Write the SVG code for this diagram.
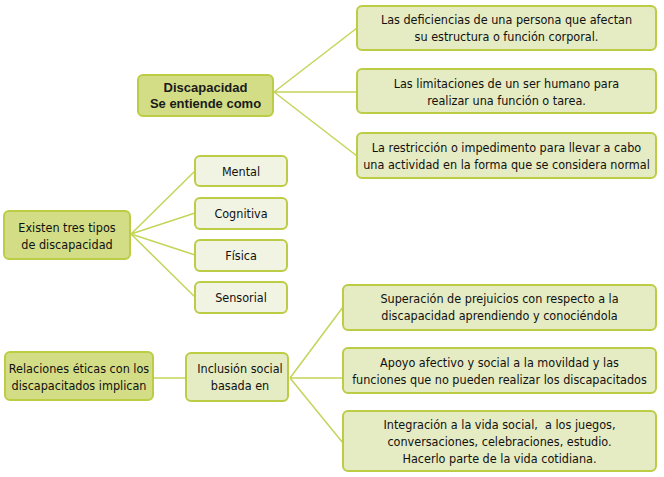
<svg xmlns="http://www.w3.org/2000/svg" width="664" height="477" viewBox="0 0 664 477">
<style>
.b{stroke:#bccd45;stroke-width:2}
.d{fill:#d3dd85}
.m{fill:#e5ebc2}
.l{fill:#f1f4e2}
.t{font-family:"Liberation Sans Narrow","DejaVu Sans Condensed","Liberation Sans",sans-serif;font-size:12.5px;fill:#111111;text-anchor:middle}
.h{font-family:"Liberation Sans",Arial,sans-serif;font-size:13px;font-weight:bold;fill:#1a1a1a;text-anchor:middle}
.c{stroke:#c5d45a;stroke-width:1.5;fill:none}
</style>
<rect width="664" height="477" fill="#ffffff"/>
<g id="connectors" class="c">
<path d="M274 92L357 28M274 92H357M274 92L357 156"/>
<path d="M131 234L195 171M131 234L195 213M131 234L195 255M131 234L195 297"/>
<path d="M153 378H186"/>
<path d="M290 378L343 307M290 378H343M290 378L343 443"/>
</g>
<g id="n-disc"><rect x="138" y="75" width="135" height="41" rx="5" class="b d" fill="#cdd872"/><text class="h" x="205.5" y="92">Discapacidad</text><text class="h" x="205.5" y="108">Se entiende como</text></g>
<g id="n-def"><rect x="357" y="6" width="299" height="44" rx="5" class="b m"/><text class="t" x="506.5" y="24">Las deficiencias de una persona que afectan</text><text class="t" x="506.5" y="41">su estructura o función corporal.</text></g>
<g id="n-lim"><rect x="357" y="69" width="299" height="44" rx="5" class="b m"/><text class="t" x="506.5" y="88">Las limitaciones de un ser humano para</text><text class="t" x="506.5" y="105">realizar una función o tarea.</text></g>
<g id="n-res"><rect x="357" y="133" width="299" height="45" rx="5" class="b m"/><text class="t" x="506.5" y="152">La restricción o impedimento para llevar a cabo</text><text class="t" x="506.5" y="169">una actividad en la forma que se considera normal</text></g>
<g id="n-tipos"><rect x="4" y="211" width="126" height="48" rx="5" class="b d"/><text class="t" x="67" y="232">Existen tres tipos</text><text class="t" x="67" y="249">de discapacidad</text></g>
<g id="n-mental"><rect x="195" y="156" width="92" height="30" rx="5" class="b l"/><text class="t" x="241" y="176">Mental</text></g>
<g id="n-cog"><rect x="195" y="198" width="92" height="31" rx="5" class="b l"/><text class="t" x="241" y="218">Cognitiva</text></g>
<g id="n-fis"><rect x="195" y="240" width="92" height="31" rx="5" class="b l"/><text class="t" x="241" y="260">Física</text></g>
<g id="n-sen"><rect x="195" y="282" width="92" height="31" rx="5" class="b l"/><text class="t" x="241" y="302">Sensorial</text></g>
<g id="n-rel"><rect x="5" y="352" width="148" height="48" rx="5" class="b d"/><text class="t" x="79" y="373">Relaciones éticas con los</text><text class="t" x="79" y="390">discapacitados implican</text></g>
<g id="n-inc"><rect x="186" y="353" width="102" height="48" rx="5" class="b m"/><text class="t" x="240" y="373">Inclusión social</text><text class="t" x="240" y="390">basada en</text></g>
<g id="n-sup"><rect x="343" y="285" width="313" height="45" rx="5" class="b m"/><text class="t" x="499.5" y="303">Superación de prejuicios con respecto a la</text><text class="t" x="499.5" y="320">discapacidad aprendiendo y conociéndola</text></g>
<g id="n-apo"><rect x="343" y="348" width="313" height="45" rx="5" class="b m"/><text class="t" x="499.5" y="367">Apoyo afectivo y social a la movildad y las</text><text class="t" x="499.5" y="384">funciones que no pueden realizar los discapacitados</text></g>
<g id="n-int"><rect x="343" y="411" width="313" height="60" rx="5" class="b m"/><text class="t" x="499.5" y="429" xml:space="preserve" style="white-space:pre">Integración a la vida social,  a los juegos,</text><text class="t" x="499.5" y="446">conversaciones, celebraciones, estudio.</text><text class="t" x="499.5" y="463">Hacerlo parte de la vida cotidiana.</text></g>
</svg>
